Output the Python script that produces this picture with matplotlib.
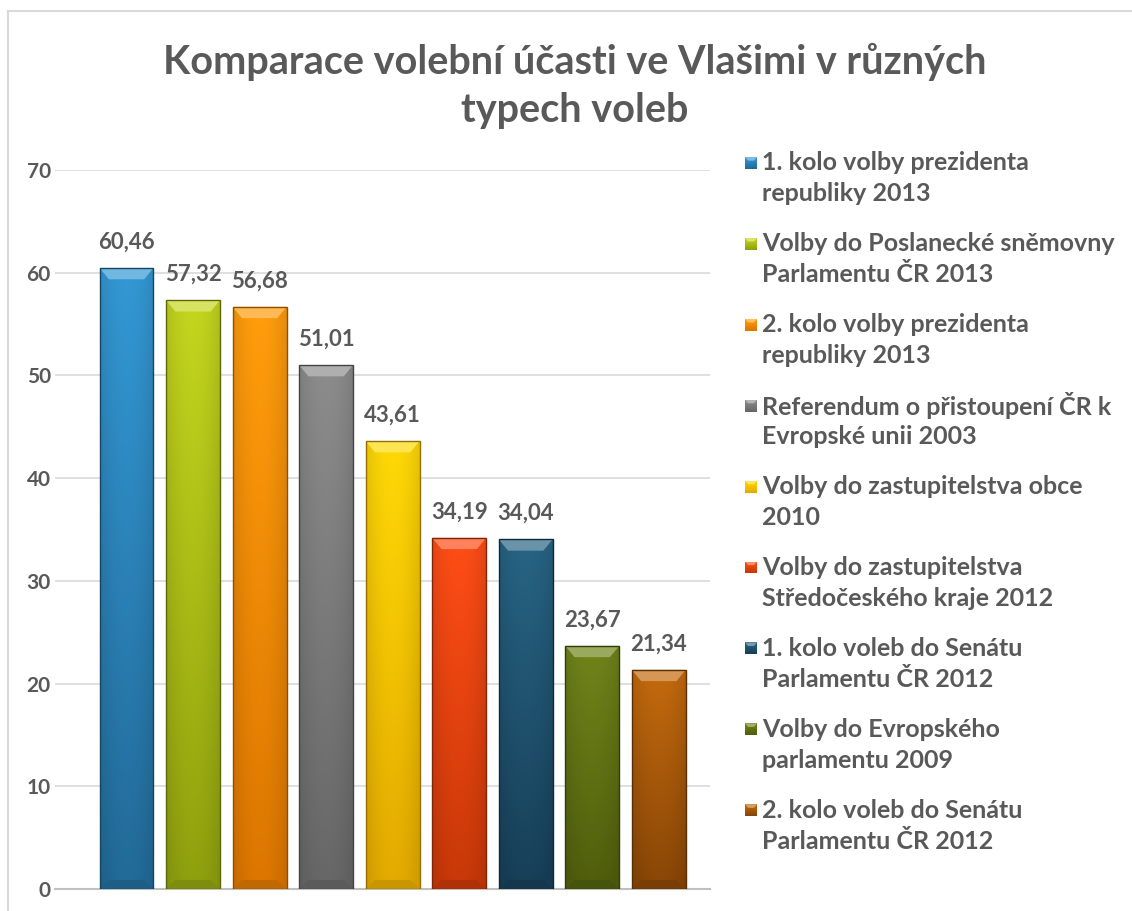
import numpy as np
import matplotlib
matplotlib.use("Agg")
import matplotlib.pyplot as plt
from matplotlib.patches import Polygon, Rectangle
from matplotlib.colors import to_rgb

plt.rcParams['font.family'] = ['Lato', 'DejaVu Sans']
plt.rcParams['font.weight'] = 'bold'

title = "Komparace volební účasti ve Vlašimi v různých\ntypech voleb"
categories = [
    "1. kolo volby prezidenta\nrepubliky 2013",
    "Volby do Poslanecké sněmovny\nParlamentu ČR 2013",
    "2. kolo volby prezidenta\nrepubliky 2013",
    "Referendum o přistoupení ČR k\nEvropské unii 2003",
    "Volby do zastupitelstva obce\n2010",
    "Volby do zastupitelstva\nStředočeského kraje 2012",
    "1. kolo voleb do Senátu\nParlamentu ČR 2012",
    "Volby do Evropského\nparlamentu 2009",
    "2. kolo voleb do Senátu\nParlamentu ČR 2012",
]
values = [60.46, 57.32, 56.68, 51.01, 43.61, 34.19, 34.04, 23.67, 21.34]
value_labels = ["60,46", "57,32", "56,68", "51,01", "43,61", "34,19", "34,04", "23,67", "21,34"]
yticks = [0, 10, 20, 30, 40, 50, 60, 70]

top_colors = ["#3398d4", "#c4d61e", "#ff9d0c", "#8c8c8c", "#ffd906", "#ff4d16", "#276484", "#70841a", "#c46a0e"]
bot_colors = ["#226a98", "#8fa00e", "#dc7600", "#676767", "#e4aa00", "#c83808", "#173f58", "#505e0c", "#884606"]

TEXT = "#595959"
W, H = 1132, 911
fig = plt.figure(figsize=(W / 100, H / 100), dpi=100)

# chart border
fig.add_artist(plt.Line2D([8 / W, 8 / W], [0, 1 - 11 / H], color="#d9d9d9", lw=1.5, transform=fig.transFigure))
fig.add_artist(plt.Line2D([8 / W, 1], [1 - 11 / H, 1 - 11 / H], color="#d9d9d9", lw=1.5, transform=fig.transFigure))

ax = fig.add_axes([55 / W, 1 - 889 / H, (710 - 55) / W, (889 - 170) / H])
x = np.arange(len(values))
ax.set_xlim(-1.075, 8.77)
ax.set_ylim(0, 70)
bw = 0.81

def mix(c, w, t):
    c = np.array(to_rgb(c)); w = np.array(to_rgb(w))
    return tuple(c * (1 - t) + w * t)

bars = ax.bar(x, values, width=bw, color=bot_colors, edgecolor="none", zorder=3)
for i, b in enumerate(bars):
    x0, y0 = b.get_x(), 0
    x1, y1 = x0 + b.get_width(), b.get_height()
    top = np.array(to_rgb(top_colors[i])); bot = np.array(to_rgb(bot_colors[i]))
    n = 64
    t = np.linspace(0, 1, n)[:, None]
    grad = (top * (1 - t) + bot * t)[:, None, :]
    hs = np.linspace(-1, 1, 32)
    shade = 1 - 0.10 * hs ** 2
    img = grad * shade[None, :, None]
    im = ax.imshow(np.clip(img, 0, 1), extent=(x0, x1, y0, y1), aspect="auto", origin="upper", zorder=4, interpolation="bilinear")
    im.set_clip_path(b)
    dx = 0.14
    dy = 1.1
    bev = Polygon([[x0, y1], [x1, y1], [x1 - dx, y1 - dy], [x0 + dx, y1 - dy]], closed=True,
                  facecolor=mix(top_colors[i], "white", 0.30), edgecolor="none", zorder=5)
    ax.add_patch(bev)
    bev2 = Polygon([[x0, 0], [x1, 0], [x1 - dx, dy * 0.8], [x0 + dx, dy * 0.8]], closed=True,
                   facecolor=mix(bot_colors[i], "black", 0.12), edgecolor="none", zorder=5)
    ax.add_patch(bev2)
    ax.add_patch(Rectangle((x0, 0), x1 - x0, y1, fill=False, edgecolor=mix(bot_colors[i], "black", 0.35), lw=1.0, zorder=6))
    ax.annotate(value_labels[i], (x[i], values[i]), xytext=(0, 11), textcoords="offset points",
                ha="center", va="bottom", fontsize=16, fontweight="bold", color=TEXT, zorder=7)

ax.set_yticks(yticks)
ax.set_yticklabels([str(v) for v in yticks])
plt.setp(ax.get_yticklabels(), fontsize=15, fontweight="bold", color=TEXT)
ax.set_xticks([])
ax.tick_params(axis="y", length=0, pad=3)
ax.grid(axis="y", color="#d9d9d9", lw=1.2, zorder=0)
for s in ["top", "right", "left"]:
    ax.spines[s].set_visible(False)
ax.spines["bottom"].set_color("#bfbfbf")
ax.spines["bottom"].set_linewidth(1.5)
ax.set_facecolor("none")

# title
fig.text(575 / W, 1 - 86 / H, title, ha="center", va="center", fontsize=28.5, fontweight="bold",
         color=TEXT, linespacing=1.35)

# legend (manual, marker aligned with first line)
for i, lab in enumerate(categories):
    yc = 163 + i * 80.9
    lines = lab.split("\n")
    sx, sz = 745, 12
    ra = fig.add_axes([sx / W, 1 - (yc + sz / 2) / H, sz / W, sz / H])
    top = np.array(to_rgb(top_colors[i])); bot = np.array(to_rgb(bot_colors[i]))
    t = np.linspace(0, 1, 16)[:, None]
    ra.imshow((top * (1 - t) + bot * t)[:, None, :].repeat(16, axis=1), aspect="auto", extent=(0, 1, 0, 1))
    ra.add_patch(Polygon([[0, 1], [1, 1], [0.75, 0.7], [0.25, 0.7]], facecolor=mix(top_colors[i], "white", 0.35), edgecolor="none"))
    ra.set_xlim(0, 1); ra.set_ylim(0, 1); ra.axis("off")
    for j, ln in enumerate(lines):
        fig.text(762 / W, 1 - (yc + j * 31) / H, ln, ha="left", va="center", fontsize=18,
                 fontweight="bold", color=TEXT)

fig.savefig("out.png", dpi=100, facecolor="white")
